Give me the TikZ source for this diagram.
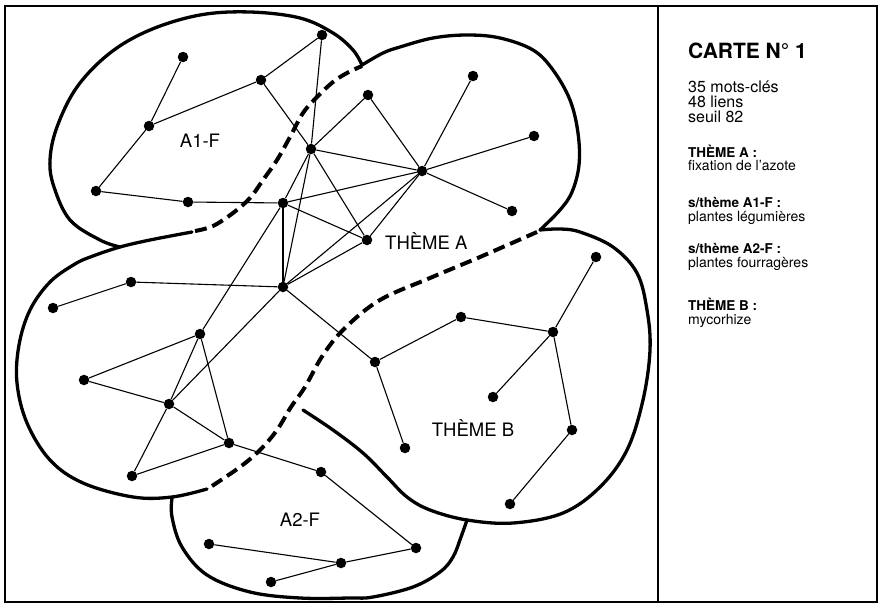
\documentclass[tikz,border=0pt]{standalone}
\usepackage{fontspec}
\setmainfont{TeX Gyre Heros}
\begin{document}
\begin{tikzpicture}[x=1pt,y=-1pt,
  kw/.style={circle,fill=black,inner sep=0pt,minimum size=10.5pt},
  lien/.style={line width=1.1pt},
  contour/.style={line width=3.3pt,line join=round,line cap=round},
  frontiere/.style={line width=4pt,dash pattern=on 12pt off 6pt},
  zone/.style={font=\fontsize{18.5}{20}\selectfont,inner sep=0pt},
  titre/.style={font=\fontsize{21}{24}\selectfont\bfseries,anchor=base west,inner sep=0pt},
  moyen/.style={font=\fontsize{16}{18}\selectfont,anchor=base west,inner sep=0pt},
  gras/.style={font=\fontsize{13.5}{15}\selectfont\bfseries,anchor=base west,inner sep=0pt},
  petit/.style={font=\fontsize{14}{16}\selectfont,anchor=base west,inner sep=0pt}]
\useasboundingbox (0,0) rectangle (879,605);

% frame and legend divider
\draw[line width=1.5pt] (5,6) rectangle (877,602);
\draw[line width=1.5pt] (658,6) -- (658,602);

% theme outlines
\draw[contour] plot[smooth,tension=0.6] coordinates {(120,247) (100,240) (70,220) (54,187) (50,160) (57,127) (77,87) (110,53) (150,30) (200,15) (250,12) (300,18) (333,33) (353,50) (362,65)};
\draw[contour] plot[smooth,tension=0.6] coordinates {(362,65) (383,53) (400,47) (433,38) (467,35) (500,38) (533,50) (553,70) (570,100) (578,133) (579,165) (572,192) (560,210) (540,230)};
\draw[contour] plot[smooth,tension=0.6] coordinates {(540,230) (560,229) (580,232) (613,247) (637,273) (647,310) (650,350) (643,400) (627,450) (600,487) (563,513) (513,523) (467,520) (430,510) (407,497) (387,477) (363,453) (333,430) (303,410)};
\draw[contour] plot[smooth,tension=0.6] coordinates {(467,520) (461,537) (453,557) (440,572) (413,587) (373,597) (350,598) (300,598) (250,592) (207,575) (182,547) (172,517) (172,498)};
\draw[contour] plot[smooth,tension=0.6] coordinates {(207,489) (172,497) (133,497) (83,483) (50,460) (27,423) (17,383) (19,345) (30,310) (50,282) (75,264) (93,256) (120,247) (150,240) (192,232)};

% sub-theme boundaries
\draw[frontiere] plot[smooth,tension=0.6] coordinates {(195,231) (213,226) (233,213) (250,198) (263,180) (277,160) (290,137) (303,113) (317,97) (333,82) (347,73) (362,66)};
\draw[frontiere] plot[smooth,tension=0.6] coordinates {(212,486) (240,467) (260,450) (277,430) (291,407) (305,387) (323,355) (345,328) (380,300) (430,278) (480,257) (537,232)};

% keywords
\node[kw] (k1) at (183,57) {};
\node[kw] (k2) at (322,35) {};
\node[kw] (k3) at (261,80) {};
\node[kw] (k4) at (149,126) {};
\node[kw] (k5) at (311,149) {};
\node[kw] (k6) at (368,95) {};
\node[kw] (k7) at (422,171) {};
\node[kw] (k8) at (96,191) {};
\node[kw] (k9) at (188,202) {};
\node[kw] (k10) at (283,203) {};
\node[kw] (k11) at (367,240) {};
\node[kw] (k12) at (131,282) {};
\node[kw] (k13) at (283,287) {};
\node[kw] (k14) at (473,76) {};
\node[kw] (k15) at (534,136) {};
\node[kw] (k16) at (512,211) {};
\node[kw] (k17) at (596,257) {};
\node[kw] (k18) at (53,308) {};
\node[kw] (k19) at (200,334) {};
\node[kw] (k20) at (84,380) {};
\node[kw] (k21) at (169,404) {};
\node[kw] (k22) at (229,443) {};
\node[kw] (k23) at (132,476) {};
\node[kw] (k24) at (375,362) {};
\node[kw] (k25) at (405,448) {};
\node[kw] (k26) at (321,472) {};
\node[kw] (k27) at (209,544) {};
\node[kw] (k28) at (341,563) {};
\node[kw] (k29) at (416,548) {};
\node[kw] (k30) at (271,582) {};
\node[kw] (k31) at (461,317) {};
\node[kw] (k32) at (553,332) {};
\node[kw] (k33) at (493,397) {};
\node[kw] (k34) at (572,430) {};
\node[kw] (k35) at (510,504) {};

% links
\foreach \a/\b in {1/4,4/3,3/2,3/5,2/5,4/8,8/9,9/10,5/6,6/7,5/7,5/10,5/11,10/7,10/11,10/13,
  13/7,13/11,13/12,12/18,19/10,13/21,13/24,19/20,19/21,19/22,20/21,21/22,21/23,22/23,22/26,
  26/29,27/28,28/29,28/30,24/25,24/31,31/32,32/17,32/33,32/34,34/35,7/14,7/15,7/16,5/13,7/11}
  \draw[lien] (k\a) -- (k\b);

% zone labels
\node[zone] (lA1) at (200,141) {A1-F};
\node[zone,anchor=west] (lA) at (385,241) {THÈME A};
\node[zone] (lB) at (473,428) {THÈME B};
\node[zone] (lA2) at (300,520) {A2-F};

% legend
\node[titre] (t0) at (688,58) {CARTE N° 1};
\node[moyen] (t1) at (688,92) {35 mots-clés};
\node[moyen] (t2) at (688,107) {48 liens};
\node[moyen] (t3) at (688,122) {seuil 82};
\node[gras] (t4) at (688,157) {THÈME A :};
\node[petit] (t5) at (688,170) {fixation de l'azote};
\node[gras] (t6) at (688,207) {s/thème A1-F :};
\node[petit] (t7) at (688,221) {plantes légumières};
\node[gras] (t8) at (688,253) {s/thème A2-F :};
\node[petit] (t9) at (688,267) {plantes fourragères};
\node[gras] (t10) at (688,310) {THÈME B :};
\node[petit] (t11) at (688,324) {mycorhize};
\end{tikzpicture}
\end{document}
